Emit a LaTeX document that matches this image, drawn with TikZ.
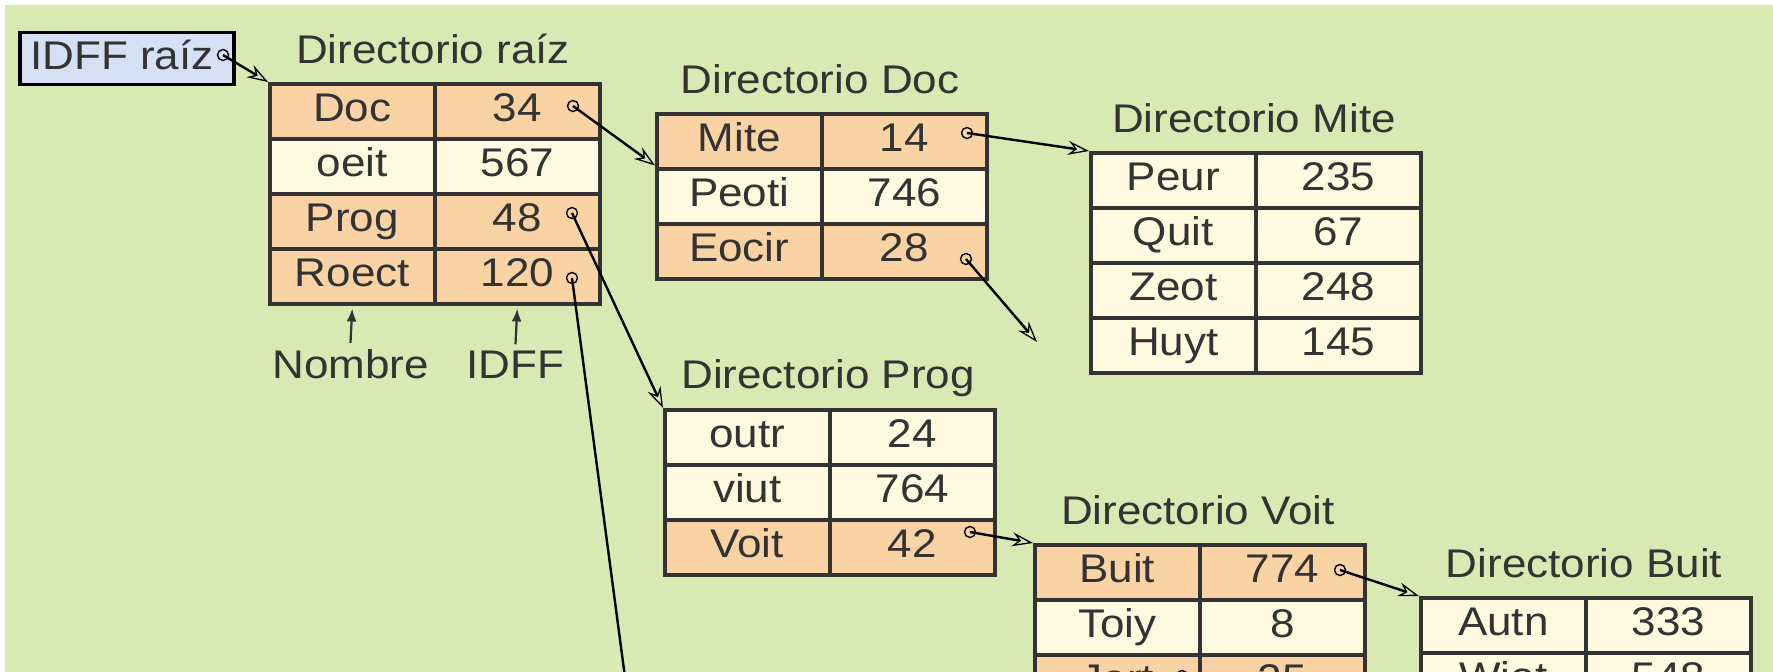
\documentclass[tikz,border=0pt]{standalone}
\usepackage{fontspec}
\setmainfont{Liberation Sans}[FakeStretch=1.1]
\usetikzlibrary{arrows.meta}

\definecolor{bggreen}{HTML}{D9E9B3}
\definecolor{peach}{HTML}{FAD3A5}
\definecolor{cream}{HTML}{FEF9DF}
\definecolor{rootblue}{HTML}{D5E0F5}
\definecolor{ink}{HTML}{333333}

\tikzset{
    cell/.style={draw=ink, line width=3.5pt, minimum width=165pt, minimum height=55pt,
        inner sep=0pt, text=ink, text height=29pt, text depth=8pt, anchor=north west},
    sub/.style={cell, fill=peach},
    leaf/.style={cell, fill=cream},
    title/.style={text=ink, anchor=base, inner sep=0pt},
    ptr/.style={circle, draw=black, line width=1.4pt, minimum size=11pt, inner sep=0pt},
    link/.style={black, line width=2.4pt,
        -{Stealth[open, length=21pt, width=14pt, inset=7pt, line width=1.3pt]}},
    hintarrow/.style={draw=ink, line width=2.2pt, -{Latex[length=13pt, width=10pt]}},
}

\begin{document}
\begin{tikzpicture}[x=1pt, y=1pt, font=\fontsize{40}{48}\selectfont]
        \useasboundingbox (0,0) rectangle (1773,-672);
        \clip (0,0) rectangle (1773,-672);

        % background
        \fill[bggreen] (5,-5) rectangle (1773,-672);

        % root pointer
        \node[draw=black, line width=3.5pt, fill=rootblue, text=ink, minimum width=214pt,
            minimum height=52pt, inner sep=0pt, text height=29pt, text depth=8pt]
            (idff_root) at (127,-58.5) {IDFF raíz\hspace*{10pt}};

        % directories
        \node[title] (t_raiz) at (433,-63) {Directorio raíz};
        \foreach \nm/\val/\st [count=\i] in {Doc/34/sub, oeit/567/leaf, Prog/48/sub, Roect/120/sub} {
            \node[\st] (raiz_\i_1) at (268, {-27-55*\i}) {\nm};
            \node[\st] (raiz_\i_2) at (433, {-27-55*\i}) {\val};
        }
        \node[title] (t_doc) at (820,-93) {Directorio Doc};
        \foreach \nm/\val/\st [count=\i] in {Mite/14/sub, Peoti/746/leaf, Eocir/28/sub} {
            \node[\st] (doc_\i_1) at (655, {-57-55*\i}) {\nm};
            \node[\st] (doc_\i_2) at (820, {-57-55*\i}) {\val};
        }
        \node[title] (t_mite) at (1254,-132) {Directorio Mite};
        \foreach \nm/\val [count=\i] in {Peur/235, Quit/67, Zeot/248, Huyt/145} {
            \node[leaf] (mite_\i_1) at (1089, {-96-55*\i}) {\nm};
            \node[leaf] (mite_\i_2) at (1254, {-96-55*\i}) {\val};
        }
        \node[title] (t_prog) at (828,-388) {Directorio Prog};
        \foreach \nm/\val/\st [count=\i] in {outr/24/leaf, viut/764/leaf, Voit/42/sub} {
            \node[\st] (prog_\i_1) at (663, {-353-55*\i}) {\nm};
            \node[\st] (prog_\i_2) at (828, {-353-55*\i}) {\val};
        }
        \node[title] (t_voit) at (1198,-524) {Directorio Voit};
        \foreach \nm/\val/\st [count=\i] in {Buit/774/sub, Toiy/8/leaf, Jort/25/sub} {
            \node[\st] (voit_\i_1) at (1033, {-488-55*\i}) {\nm};
            \node[\st] (voit_\i_2) at (1198, {-488-55*\i}) {\val};
        }
        \node[title] (t_buit) at (1584,-577) {Directorio Buit};
        \foreach \nm/\val [count=\i] in {Autn/333, Wiot/548} {
            \node[leaf] (buit_\i_1) at (1419, {-541-55*\i}) {\nm};
            \node[leaf] (buit_\i_2) at (1584, {-541-55*\i}) {\val};
        }

        % field names
        \node[title] (l_nombre) at (350.5,-378) {Nombre};
        \node[title] (l_idff) at (515.5,-378) {IDFF};
        \draw[hintarrow] ([yshift=6pt]l_nombre.north) -- ([yshift=-3pt]raiz_4_1.south);
        \draw[hintarrow] ([yshift=6pt]l_idff.north) -- ([yshift=-3pt]raiz_4_2.south);

        % pointers
        \node[ptr] (p_idff) at (223,-55) {};
        \node[ptr] (p_doc) at (573,-106) {};
        \node[ptr] (p_prog) at (572,-213) {};
        \node[ptr] (p_roect) at (572,-278) {};
        \node[ptr] (p_mite) at (967,-133) {};
        \node[ptr] (p_eocir) at (966,-259) {};
        \node[ptr] (p_voit) at (970,-532) {};
        \node[ptr] (p_buit) at (1340,-570) {};
        \node[ptr] (p_jort) at (1182,-676) {};
        \coordinate (eocir_end) at (1037,-342);
        \coordinate (roect_end) at (632,-730);

        %% connection
        \draw[link] (p_idff.center) -- (raiz_1_1.north west);
        \draw[link] (p_doc.center) -- ([yshift=5pt]doc_1_1.south west);
        \draw[link] (p_prog.center) -- (prog_1_1.north west);
        \draw[link] (p_roect.center) -- (roect_end);
        \draw[link] (p_mite.center) -- (mite_1_1.north west);
        \draw[link] (p_eocir.center) -- (eocir_end);
        \draw[link] (p_voit.center) -- (voit_1_1.north west);
        \draw[link] (p_buit.center) -- (buit_1_1.north west);
\end{tikzpicture}
\end{document}
